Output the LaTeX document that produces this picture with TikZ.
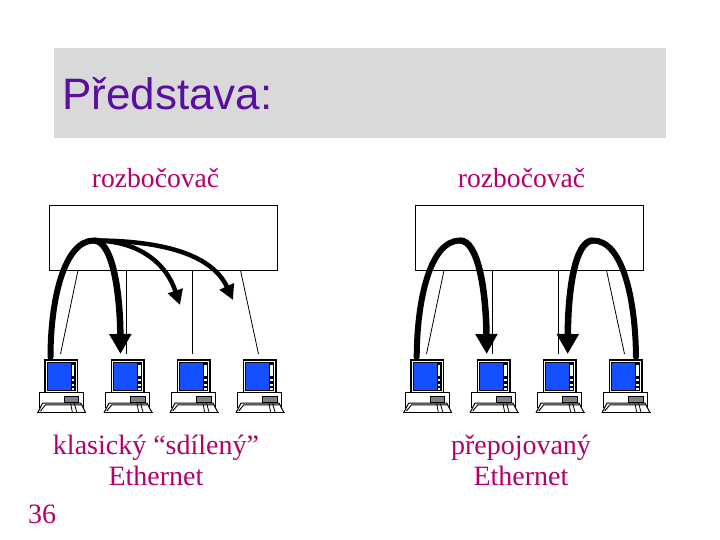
\documentclass[tikz,border=0pt]{standalone}
\usepackage{fontspec}
\setmainfont{Liberation Serif}
\newfontfamily\titlefont{Liberation Sans}
\usetikzlibrary{arrows.meta}
\definecolor{labelc}{HTML}{B4006A}
\definecolor{titlec}{HTML}{5A0FA0}
\definecolor{band}{HTML}{D9D9D9}
\definecolor{screenc}{HTML}{1450FF}
\definecolor{slotc}{HTML}{808080}
\tikzset{
  x=1pt,y=-1pt,
  lbl/.style={text=labelc,font=\fontsize{28}{31}\selectfont,align=center,inner sep=0pt},
  hubbox/.style={draw=black,line width=1pt,fill=white,minimum width=227.5pt,minimum height=65pt,inner sep=0pt},
  wire/.style={draw=black,line width=0.8pt},
  bigflow/.style={line width=6.5pt,-{Triangle[length=20pt,width=21pt]}},
  thinflow/.style={line width=4.5pt,-{Triangle[length=15pt,width=15pt]}},
  pics/pc/.style={code={
    \draw[black,line width=1.1pt,fill=white] (0,0) rectangle (32.7,32.7);
    \fill[black] (1.8,2.4) rectangle (30.7,31);
    \fill[screenc] (2.8,3.4) rectangle (26,30);
    \fill[white] (27,5) rectangle (29.2,16);
    \fill[white] (27,18.5) rectangle (29.2,21);
    \fill[white] (27,23.5) rectangle (29.2,26);
    \fill[white] (27,28) rectangle (29.2,30);
    \draw[black,line width=1.1pt,fill=white] (-5.7,32.7) rectangle (38.3,47.3);
    \draw[black,line width=0.9pt,fill=slotc] (19.3,36) rectangle (33.7,42.7);
    \fill[white] (-2.3,43) -- (35.7,43) -- (40.7,52.5) -- (-7.3,52.5) -- cycle;
    \draw[black,line width=1pt] (-7.3,52.8) -- (-2.3,43) -- (35.7,43) -- (40.7,52.8);
    \draw[black,line width=0.9pt] (-4.5,51) -- (0.5,44.8) -- (36,44.8);
    \draw[black,line width=1.6pt] (-7.8,52.3) -- (41.2,52.3);
    \draw[black,line width=0.8pt] (25.7,43.5) -- (27.3,52) (29.3,43.5) -- (31.7,52);
  }}
}
\begin{document}
\begin{tikzpicture}
\useasboundingbox (0,0) rectangle (720,540);
\fill[white] (0,0) rectangle (720,540);
\node[fill=band,minimum width=612pt,minimum height=90pt,inner sep=0pt,anchor=north west] (band) at (54,48) {};
\node[anchor=west,inner sep=0pt,text=titlec,font=\titlefont\fontsize{44}{50}\selectfont] (title) at (62,94) {Představa:};
\node[lbl,font=\fontsize{27.6}{31}\selectfont] (hubnameA) at (155.5,178) {rozbočovač};
\node[lbl,font=\fontsize{27.6}{31}\selectfont] (hubnameB) at (521.5,178) {rozbočovač};
\node[hubbox,anchor=north west] (hubA) at (49,205.3) {};
\node[hubbox,anchor=north west] (hubB) at (415,205.3) {};
\node[lbl] (capA) at (156,460) {klasický “sdílený”\\Ethernet};
\node[lbl] (capB) at (521,460) {přepojovaný\\Ethernet};
\node[lbl] (num) at (42,514) {36};
\foreach \n/\px in {a/45,b/111.3,c/177.3,d/243.3,e/411,f/477.3,g/543.3,h/609.3}{
  \pic (pc\n) at (\px,360) {pc};
}
% wire ends
\coordinate (wa0) at (78,270.3); \coordinate (wa1) at (60.5,354);
\coordinate (wb0) at (126.5,270.3); \coordinate (wb1) at (126.5,354);
\coordinate (wc0) at (192.5,270.3); \coordinate (wc1) at (192.5,354);
\coordinate (wd0) at (240.5,270.3); \coordinate (wd1) at (258.5,354);
\coordinate (we0) at (444,270.3); \coordinate (we1) at (426.5,354);
\coordinate (wf0) at (492.5,270.3); \coordinate (wf1) at (492.5,354);
\coordinate (wg0) at (558.5,270.3); \coordinate (wg1) at (558.5,354);
\coordinate (wh0) at (606.5,270.3); \coordinate (wh1) at (624.5,354);
\foreach \w in {a,b,c,d,e,f,g,h}{\draw[wire] (w\w0) -- (w\w1);}
% flows
\coordinate (sA) at (50.5,357);
\coordinate (pA) at (94,240.5);
\coordinate (tA) at (120.5,354);
\coordinate (tB) at (180,305);
\coordinate (tC) at (233,300);
\coordinate (sE) at (416.7,357);
\coordinate (pE) at (460,240.5);
\coordinate (tE) at (486.7,354);
\coordinate (sH) at (636,357);
\coordinate (pH) at (593,240.5);
\coordinate (tH) at (567.7,354);
\draw[line width=6pt,line cap=round] (sA) .. controls (50.5,300) and (64,240.5) .. (pA);
\draw[bigflow] (pA) .. controls (112,240.5) and (120,290) .. (tA);
\draw[thinflow] (pA) .. controls (135,240.5) and (165,260) .. (tB);
\draw[thinflow] (pA) .. controls (150,240.5) and (210,250) .. (tC);
\draw[line width=6pt,line cap=round] (sE) .. controls (417,300) and (430,240.5) .. (pE);
\draw[bigflow] (pE) .. controls (478,240.5) and (486,290) .. (tE);
\draw[line width=6pt,line cap=round] (sH) .. controls (635.5,300) and (623,240.5) .. (pH);
\draw[bigflow] (pH) .. controls (575,240.5) and (568,290) .. (tH);
\end{tikzpicture}
\end{document}
